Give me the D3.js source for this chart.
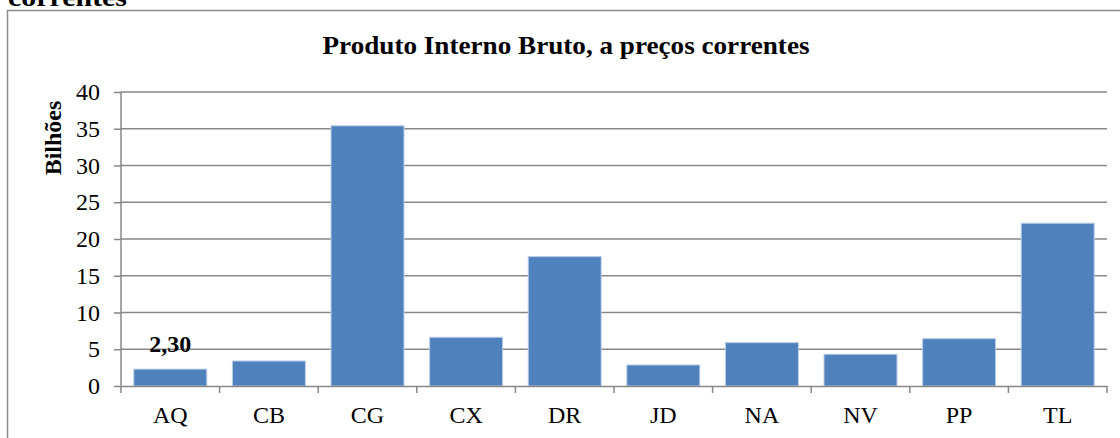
<!DOCTYPE html>
<html lang="pt">
<head>
    <meta charset="UTF-8">
    <title>Produto Interno Bruto</title>
    <script src="https://cdnjs.cloudflare.com/ajax/libs/d3/7.8.5/d3.min.js"></script>
    <style>
        html, body { margin: 0; padding: 0; background: #fff; }
        svg { display: block; font-family: "Liberation Serif", "Times New Roman", serif; }
    </style>
</head>
<body>
    <div id="chart"></div>

    <script>
        // dados (mil milhões)
        var regions = ["AQ", "CB", "CG", "CX", "DR", "JD", "NA", "NV", "PP", "TL"];
        var pib = [2.30, 3.40, 35.4, 6.63, 17.6, 2.86, 5.9, 4.32, 6.44, 22.15];
        var yTicks = [0, 5, 10, 15, 20, 25, 30, 35, 40];
        var labelled = ["AQ"];

        var W = 1120, H = 438;
        var margin = {top: 92, right: 13, bottom: 52, left: 121};
        var width = W - margin.left - margin.right,
            height = H - margin.top - margin.bottom;

        var svg = d3.select("#chart").append("svg")
            .attr("width", W)
            .attr("height", H);

        // resto do título do documento, cortado no topo
        svg.append("text")
            .attr("x", 8)
            .attr("y", 6)
            .attr("textLength", 119)
            .attr("lengthAdjust", "spacingAndGlyphs")
            .style("font-size", "26px")
            .style("font-weight", "bold")
            .text("correntes");

        // moldura
        svg.append("rect")
            .attr("x", 7.5).attr("y", 10.5)
            .attr("width", W).attr("height", H)
            .attr("fill", "none")
            .attr("stroke", "#8c8c8c")
            .attr("stroke-width", 1.5);

        svg.append("text")
            .attr("x", 566)
            .attr("y", 54)
            .attr("text-anchor", "middle")
            .attr("textLength", 487)
            .attr("lengthAdjust", "spacingAndGlyphs")
            .style("font-size", "25px")
            .style("font-weight", "bold")
            .text("Produto Interno Bruto, a preços correntes");

        var g = svg.append("g")
            .attr("transform", "translate(" + margin.left + "," + margin.top + ")");

        var x = d3.scaleBand()
            .domain(regions)
            .range([0, width])
            .paddingInner(0.26)
            .paddingOuter(0.13);

        var y = d3.scaleLinear()
            .domain([0, 40])
            .range([height, 0]);

        // grelha
        g.append("g")
            .selectAll("line")
            .data(yTicks.slice(1))
            .enter().append("line")
            .attr("x1", 0).attr("x2", width)
            .attr("y1", function(d) { return y(d); })
            .attr("y2", function(d) { return y(d); })
            .attr("stroke", "#878787")
            .attr("stroke-width", 1.5);

        g.selectAll(".bar")
            .data(regions)
            .enter().append("rect")
            .attr("class", "bar")
            .attr("x", function(d) { return x(d); })
            .attr("y", function(d, i) { return y(pib[i]); })
            .attr("width", x.bandwidth())
            .attr("height", function(d, i) { return height - y(pib[i]); })
            .attr("fill", "#4f81bd")
            .attr("stroke", "#b9cde5")
            .attr("stroke-width", 1);

        // eixo Y
        var yAxis = g.append("g")
            .call(d3.axisLeft(y).tickValues(yTicks).tickSize(7).tickPadding(14));
        yAxis.select(".domain").attr("stroke", "#878787").attr("stroke-width", 1.5)
            .attr("d", "M0," + height + "V0");
        yAxis.selectAll(".tick line").attr("stroke", "#878787").attr("stroke-width", 1.5);
        yAxis.selectAll("text")
            .style("font-family", "'Liberation Serif', serif")
            .style("font-size", "24px")
            .attr("fill", "#000");

        // eixo X com marcas entre categorias
        var xAxis = g.append("g")
            .attr("transform", "translate(0," + height + ")")
            .call(d3.axisBottom(x).tickSize(0).tickPadding(20));
        xAxis.select(".domain").attr("stroke", "#878787").attr("stroke-width", 1.5);
        xAxis.selectAll("text")
            .style("font-family", "'Liberation Serif', serif")
            .style("font-size", "24px")
            .attr("fill", "#000");

        var step = x.step();
        g.append("g")
            .selectAll("line")
            .data(d3.range(regions.length + 1))
            .enter().append("line")
            .attr("x1", function(i) { return i * step; })
            .attr("x2", function(i) { return i * step; })
            .attr("y1", height).attr("y2", height + 7)
            .attr("stroke", "#878787")
            .attr("stroke-width", 1.5);

        // rótulo de dados
        g.selectAll(".lbl")
            .data(labelled)
            .enter().append("text")
            .attr("class", "lbl")
            .attr("x", function(d) { return x(d) + x.bandwidth() / 2; })
            .attr("y", function(d) { return y(pib[regions.indexOf(d)]) - 17; })
            .attr("text-anchor", "middle")
            .style("font-size", "24px")
            .style("font-weight", "bold")
            .text(function(d) { return pib[regions.indexOf(d)].toFixed(2).replace(".", ","); });

        // título do eixo Y
        svg.append("text")
            .attr("transform", "translate(61,138) rotate(-90)")
            .attr("text-anchor", "middle")
            .style("font-size", "24px")
            .style("font-weight", "bold")
            .text("Bilhões");
    </script>
</body>
</html>
